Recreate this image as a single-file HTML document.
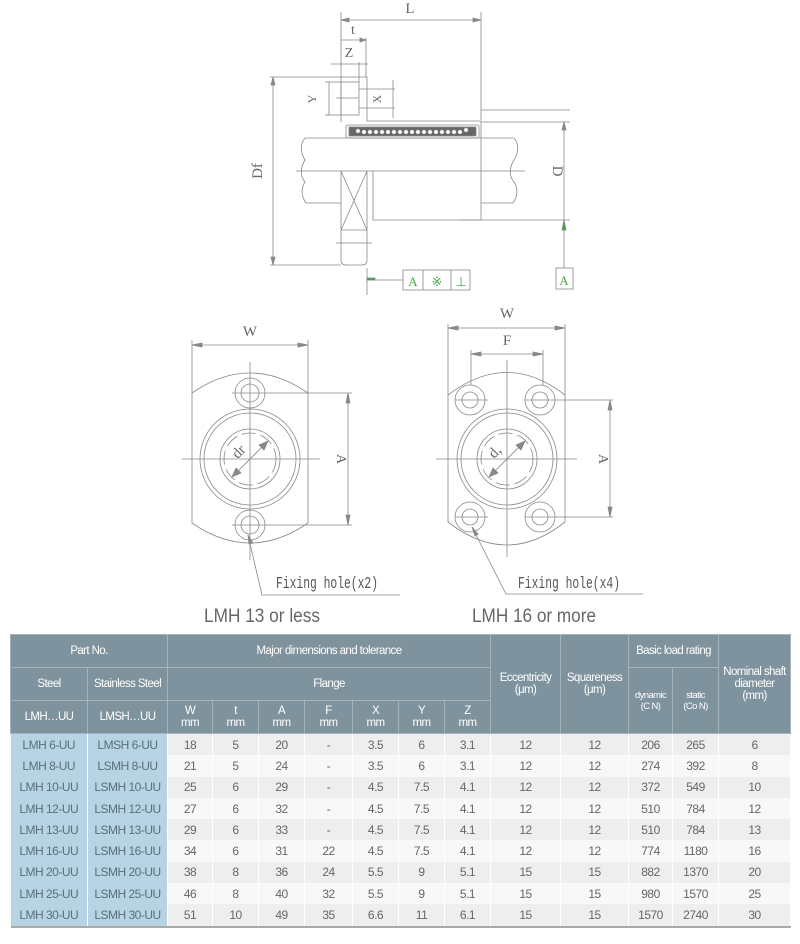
<!DOCTYPE html>
<html><head><meta charset="utf-8"><style>
body{margin:0;background:#fff;width:800px;height:944px;overflow:hidden;font-family:"Liberation Sans",sans-serif}
svg{position:absolute;left:0;top:0}
table{position:absolute;left:10px;top:634px;width:780px;border-collapse:collapse;table-layout:fixed;font-family:"Liberation Sans",sans-serif}
td{text-align:center;padding:0;overflow:hidden;white-space:nowrap}
.h td{background:#7f939e;color:#fff;border:1px solid #a5b4bc;font-size:11.5px;letter-spacing:-0.6px}
.d td{height:21.3px;font-size:12px;letter-spacing:-0.5px;color:#666;border-right:1px solid #fff}
.d td.b{background:#b6d4e4;color:#5a6f7c}
.o td{background:#eeeeee}.e td{background:#f8f8f8}
.u{font-size:9.5px!important}
</style></head><body>
<svg width="800" height="944" viewBox="0 0 800 944" fill="none" stroke="#888" stroke-width="0.8" font-family="Liberation Serif,serif">
<g>
<line x1="341" y1="12" x2="341" y2="122"/><line x1="481" y1="12" x2="481" y2="120"/>
<line x1="341" y1="20" x2="481" y2="20"/><path d="M341 20l8-2v4zM481 20l-8-2v4z" fill="#888"/>
<text x="410" y="13" fill="#666" stroke="none" font-size="15" text-anchor="middle">L</text>
<line x1="366" y1="38" x2="366" y2="77"/>
<line x1="341" y1="40" x2="366" y2="40"/><path d="M366 40l-6-2v4z" fill="#888"/>
<text x="353" y="34" fill="#666" stroke="none" font-size="14" text-anchor="middle">t</text>
<line x1="331" y1="64" x2="368" y2="64"/><line x1="359" y1="62" x2="359" y2="82"/>
<text x="349" y="57" fill="#666" stroke="none" font-size="14" text-anchor="middle">Z</text>
<path d="M341 77H367V121H481V220H373V171"/>
<rect x="341" y="82" width="18" height="33"/>
<line x1="325" y1="82" x2="341" y2="82"/><line x1="325" y1="115" x2="341" y2="115"/>
<line x1="329" y1="82" x2="329" y2="115"/><line x1="336" y1="98" x2="358" y2="98"/>
<text x="316" y="99" fill="#666" stroke="none" font-size="12" transform="rotate(-90 316 99)" text-anchor="middle">Y</text>
<line x1="359" y1="89" x2="395" y2="89"/><line x1="359" y1="108" x2="395" y2="108"/><line x1="393" y1="80" x2="393" y2="118"/>
<text x="381" y="99" fill="#666" stroke="none" font-size="12" transform="rotate(-90 381 99)" text-anchor="middle">X</text>
<rect x="346" y="125" width="133" height="13" rx="2"/>
<rect x="349" y="127" width="127" height="9" fill="#666"/>
<g fill="#fff" stroke="#888" stroke-width="0.6">
<circle cx="358" cy="131" r="2.2"/><circle cx="364" cy="132" r="2.2"/><circle cx="370" cy="132" r="2.2"/><circle cx="376" cy="132" r="2.2"/><circle cx="382" cy="132" r="2.2"/><circle cx="388" cy="132" r="2.2"/><circle cx="394" cy="132" r="2.2"/><circle cx="400" cy="132" r="2.2"/><circle cx="406" cy="132" r="2.2"/><circle cx="412" cy="132" r="2.2"/><circle cx="418" cy="132" r="2.2"/><circle cx="424" cy="132" r="2.2"/><circle cx="430" cy="132" r="2.2"/><circle cx="436" cy="132" r="2.2"/><circle cx="442" cy="132" r="2.2"/><circle cx="448" cy="132" r="2.2"/><circle cx="454" cy="132" r="2.2"/><circle cx="460" cy="132" r="2.2"/><circle cx="466" cy="130" r="2.2"/></g>
<path d="M305 138H514M305 138c-5 6-5 14 0 22c-5 8-5 16 0 22c-4 6-4 14 1 21H341M514 138c5 6 5 14 0 22c-5 8-5 16 0 22c4 6 4 14 -1 21H481"/>
<line x1="296" y1="171" x2="525" y2="171"/>
<path d="M341 171V260q0 5 5 5H362q5 0 5-5V171M341 230H367M341 171L367 230M367 171L341 230M336 243H372"/>
<line x1="481" y1="110" x2="570" y2="110"/><line x1="481" y1="122" x2="570" y2="122"/><line x1="460" y1="220" x2="570" y2="220"/>
<line x1="564" y1="122" x2="564" y2="268"/><path d="M564 122l-2 8h4z" fill="#888"/>
<path d="M564 220l-2 10h4z" fill="#3a3"/>
<text x="553" y="171" fill="#666" stroke="none" font-size="15" transform="rotate(90 553 171)" text-anchor="middle">D</text>
<line x1="270" y1="77" x2="341" y2="77"/><line x1="270" y1="265" x2="341" y2="265"/>
<line x1="273" y1="77" x2="273" y2="265"/><path d="M273 77l-2 8h4zM273 265l-2-8h4z" fill="#888"/>
<text x="262" y="171" fill="#666" stroke="none" font-size="15" transform="rotate(-90 262 171)" text-anchor="middle">Df</text>
<line x1="367" y1="268" x2="367" y2="295"/><line x1="367" y1="280" x2="403" y2="280"/><path d="M367 280h8v-2h-8z" fill="#3a3"/>
<rect x="403" y="270" width="67" height="20"/><line x1="423" y1="270" x2="423" y2="290"/><line x1="451" y1="270" x2="451" y2="290"/>
<text x="413" y="286" fill="#4a4" stroke="none" font-size="13" text-anchor="middle">A</text>
<text x="437" y="286" fill="#4a4" stroke="none" font-size="13" text-anchor="middle">※</text>
<text x="461" y="286" fill="#4a4" stroke="none" font-size="13" text-anchor="middle">⊥</text>
<rect x="556" y="268" width="17" height="21"/>
<text x="564" y="285" fill="#4a4" stroke="none" font-size="13" text-anchor="middle">A</text>
</g>
<g>
<path d="M192 393Q250 353 308 393V523Q250 563 192 523Z"/>
<circle cx="250" cy="459" r="50"/><circle cx="250" cy="459" r="46"/><circle cx="250" cy="459" r="30"/>
<circle cx="250" cy="459" r="26" stroke-dasharray="14 5"/>
<circle cx="250" cy="393" r="15"/><circle cx="250" cy="393" r="9"/>
<circle cx="250" cy="525" r="15"/><circle cx="250" cy="525" r="9"/>
<line x1="182" y1="459" x2="320" y2="459"/><line x1="250" y1="362" x2="250" y2="560"/>
<line x1="232" y1="393" x2="352" y2="393"/><line x1="232" y1="525" x2="352" y2="525"/>
<line x1="192" y1="340" x2="192" y2="393"/><line x1="308" y1="340" x2="308" y2="393"/>
<line x1="192" y1="345" x2="308" y2="345"/><path d="M192 345l10-2v4zM308 345l-10-2v4z" fill="#888"/>
<text x="250" y="336" fill="#666" stroke="none" font-size="15" text-anchor="middle">W</text>
<line x1="348" y1="393" x2="348" y2="525"/><path d="M348 393l-2 10h4zM348 525l-2-10h4z" fill="#888"/>
<text x="337" y="459" fill="#666" stroke="none" font-size="14" transform="rotate(90 337 459)" text-anchor="middle">A</text>
<line x1="232" y1="477" x2="268" y2="441"/><path d="M232 477l4-9 5 5zM268 441l-4 9-5-5z" fill="#888"/>
<text x="242" y="455" fill="#666" stroke="none" font-size="15" transform="rotate(-45 242 455)" text-anchor="middle">dr</text>
<path d="M248 535L262 595H400"/><path d="M248 535l1 9 4-1z" fill="#888"/>
<text x="276" y="588" fill="#555" stroke="none" font-size="17" font-family="Liberation Mono,monospace" textLength="102" lengthAdjust="spacingAndGlyphs">Fixing hole(x2)</text>
</g>
<g>
<path d="M448 395Q507 350 565 395V522Q507 568 448 522Z"/>
<circle cx="507" cy="459" r="50"/><circle cx="507" cy="459" r="46"/><circle cx="507" cy="459" r="30"/>
<circle cx="507" cy="459" r="26" stroke-dasharray="14 5"/>
<circle cx="470" cy="400" r="15"/><circle cx="470" cy="400" r="8"/>
<circle cx="540" cy="400" r="15"/><circle cx="540" cy="400" r="8"/>
<circle cx="470" cy="517" r="15"/><circle cx="470" cy="517" r="8"/>
<circle cx="540" cy="517" r="15"/><circle cx="540" cy="517" r="8"/>
<line x1="436" y1="459" x2="577" y2="459"/><line x1="507" y1="360" x2="507" y2="557"/>
<line x1="455" y1="400" x2="488" y2="400"/><line x1="525" y1="400" x2="613" y2="400"/>
<line x1="455" y1="517" x2="488" y2="517"/><line x1="525" y1="517" x2="613" y2="517"/>
<line x1="448" y1="324" x2="448" y2="395"/><line x1="565" y1="324" x2="565" y2="395"/>
<line x1="448" y1="328" x2="565" y2="328"/><path d="M448 328l10-2v4zM565 328l-10-2v4z" fill="#888"/>
<text x="507" y="318" fill="#666" stroke="none" font-size="15" text-anchor="middle">W</text>
<line x1="471" y1="350" x2="471" y2="385"/><line x1="543" y1="350" x2="543" y2="385"/>
<line x1="471" y1="354" x2="543" y2="354"/><path d="M471 354l10-2v4zM543 354l-10-2v4z" fill="#888"/>
<text x="507" y="345" fill="#666" stroke="none" font-size="15" text-anchor="middle">F</text>
<line x1="610" y1="400" x2="610" y2="517"/><path d="M610 400l-2 10h4zM610 517l-2-10h4z" fill="#888"/>
<text x="599" y="459" fill="#666" stroke="none" font-size="14" transform="rotate(90 599 459)" text-anchor="middle">A</text>
<line x1="489" y1="477" x2="525" y2="441"/><path d="M489 477l4-9 5 5zM525 441l-4 9-5-5z" fill="#888"/>
<text x="498" y="455" fill="#666" stroke="none" font-size="15" transform="rotate(-45 498 455)" text-anchor="middle">d,</text>
<path d="M472 527L506 594H643"/><path d="M472 527l3 9 3-2z" fill="#888"/>
<text x="518" y="588" fill="#555" stroke="none" font-size="17" font-family="Liberation Mono,monospace" textLength="102" lengthAdjust="spacingAndGlyphs">Fixing hole(x4)</text>
</g>
<text x="204" y="622" fill="#666" stroke="none" font-size="19" font-family="Liberation Sans,sans-serif" textLength="116" lengthAdjust="spacingAndGlyphs">LMH 13 or less</text>
<text x="472" y="622" fill="#666" stroke="none" font-size="19" font-family="Liberation Sans,sans-serif" textLength="124" lengthAdjust="spacingAndGlyphs">LMH 16 or more</text>
</svg>
<table>
<colgroup><col style="width:77px"><col style="width:80px"><col style="width:45px"><col style="width:46px"><col style="width:46px"><col style="width:48px"><col style="width:46px"><col style="width:46px"><col style="width:46px"><col style="width:70px"><col style="width:68px"><col style="width:44px"><col style="width:46px"><col style="width:72px"></colgroup>
<tr class="h" style="height:33px"><td colspan="2">Part No.</td><td colspan="7">Major dimensions and tolerance</td><td rowspan="3">Eccentricity<br>(μm)</td><td rowspan="3">Squareness<br>(μm)</td><td colspan="2">Basic load rating</td><td rowspan="3">Nominal shaft<br>diameter<br>(mm)</td></tr>
<tr class="h" style="height:33px"><td>Steel</td><td>Stainless Steel</td><td colspan="7">Flange</td><td rowspan="2" class="u">dynamic<br>(C N)</td><td rowspan="2" class="u">static<br>(Co N)</td></tr>
<tr class="h" style="height:33px"><td>LMH…UU</td><td>LMSH…UU</td><td>W<br>mm</td><td>t<br>mm</td><td>A<br>mm</td><td>F<br>mm</td><td>X<br>mm</td><td>Y<br>mm</td><td>Z<br>mm</td></tr>
<tr class="d o"><td class="b">LMH 6-UU</td><td class="b">LMSH 6-UU</td><td>18</td><td>5</td><td>20</td><td>-</td><td>3.5</td><td>6</td><td>3.1</td><td>12</td><td>12</td><td>206</td><td>265</td><td>6</td></tr>
<tr class="d e"><td class="b">LMH 8-UU</td><td class="b">LSMH 8-UU</td><td>21</td><td>5</td><td>24</td><td>-</td><td>3.5</td><td>6</td><td>3.1</td><td>12</td><td>12</td><td>274</td><td>392</td><td>8</td></tr>
<tr class="d o"><td class="b">LMH 10-UU</td><td class="b">LSMH 10-UU</td><td>25</td><td>6</td><td>29</td><td>-</td><td>4.5</td><td>7.5</td><td>4.1</td><td>12</td><td>12</td><td>372</td><td>549</td><td>10</td></tr>
<tr class="d e"><td class="b">LMH 12-UU</td><td class="b">LSMH 12-UU</td><td>27</td><td>6</td><td>32</td><td>-</td><td>4.5</td><td>7.5</td><td>4.1</td><td>12</td><td>12</td><td>510</td><td>784</td><td>12</td></tr>
<tr class="d o"><td class="b">LMH 13-UU</td><td class="b">LSMH 13-UU</td><td>29</td><td>6</td><td>33</td><td>-</td><td>4.5</td><td>7.5</td><td>4.1</td><td>12</td><td>12</td><td>510</td><td>784</td><td>13</td></tr>
<tr class="d e"><td class="b">LMH 16-UU</td><td class="b">LSMH 16-UU</td><td>34</td><td>6</td><td>31</td><td>22</td><td>4.5</td><td>7.5</td><td>4.1</td><td>12</td><td>12</td><td>774</td><td>1180</td><td>16</td></tr>
<tr class="d o"><td class="b">LMH 20-UU</td><td class="b">LSMH 20-UU</td><td>38</td><td>8</td><td>36</td><td>24</td><td>5.5</td><td>9</td><td>5.1</td><td>15</td><td>15</td><td>882</td><td>1370</td><td>20</td></tr>
<tr class="d e"><td class="b">LMH 25-UU</td><td class="b">LSMH 25-UU</td><td>46</td><td>8</td><td>40</td><td>32</td><td>5.5</td><td>9</td><td>5.1</td><td>15</td><td>15</td><td>980</td><td>1570</td><td>25</td></tr>
<tr class="d o" style="border-bottom:2px solid #aaa"><td class="b">LMH 30-UU</td><td class="b">LSMH 30-UU</td><td>51</td><td>10</td><td>49</td><td>35</td><td>6.6</td><td>11</td><td>6.1</td><td>15</td><td>15</td><td>1570</td><td>2740</td><td>30</td></tr>
</table>
</body></html>
